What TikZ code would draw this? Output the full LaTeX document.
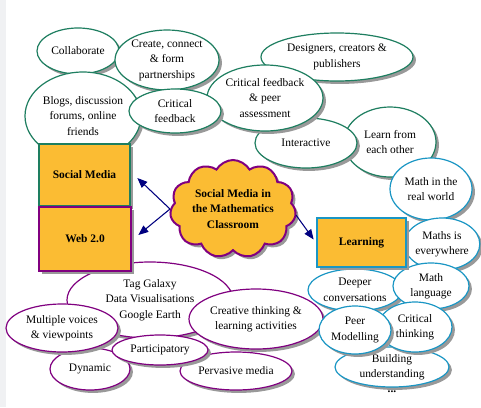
\documentclass[tikz,border=0pt]{standalone}
\usepackage{fontspec}
\setmainfont{Liberation Serif}
\usetikzlibrary{shapes.geometric,shapes.symbols,shadows,arrows.meta}
\definecolor{orng}{HTML}{FBBC33}
\definecolor{grn}{HTML}{1E7E60}
\definecolor{prp}{HTML}{800080}
\definecolor{blu}{HTML}{1A96C4}
\definecolor{nvy}{HTML}{000080}
\definecolor{strip}{HTML}{F0F1F3}
\newcommand\bubfont{\fontsize{8.6}{11.6}\selectfont}
\begin{document}
\begin{tikzpicture}[x=0.75pt,y=-0.75pt,
  shd/.style={drop shadow={shadow xshift=2.2pt,shadow yshift=-2.2pt,fill=black!40,opacity=1}},
  bub/.style n args={2}{ellipse,shd,fill=white,line width=0.9pt,inner sep=0pt,align=center,
    minimum width=#1*1.5pt,minimum height=#2*1.5pt,font=\bubfont},
  boxn/.style n args={2}{rectangle,shd,fill=orng,line width=2pt,inner sep=0pt,align=center,
    minimum width=#1*0.75pt,minimum height=#2*0.75pt,font=\bubfont\bfseries},
  arr/.style={draw=nvy,line width=0.8pt,-{Triangle[length=7.5pt,width=6pt]}}
]
\useasboundingbox (0,0) rectangle (481,407);
\fill[white] (0,0) rectangle (481,407);
\fill[strip] (0,0) rectangle (6,407);

% green group
\node[bub={76}{24},draw=grn] (des) at (337,57) {Designers, creators \&\\publishers};
\node[bub={46}{35},draw=grn] (lfo) at (390,142) {Learn from\\each other};
\node[bub={51}{25},draw=grn] (int) at (306,143) {Interactive};
\node[bub={58}{33},draw=grn] (cfp) at (265,98) {Critical feedback\\\& peer\\assessment};
\node[bub={41}{23},draw=grn] (col) at (78,51) {Collaborate};
\node[bub={52}{30},draw=grn] (cre) at (167,60) {Create, connect\\\& form\\partnerships};
\node[bub={58}{44},draw=grn] (blg) at (83,116) {Blogs, discussion\\forums, online\\friends};
\node[bub={46}{22},draw=grn] (crf) at (175,111) {Critical\\feedback};

% purple group
\node[bub={83}{38},draw=prp] (tag) at (150,300) {Tag Galaxy\\Data Visualisations\\Google Earth};
\node[bub={56}{19},draw=prp] (pvm) at (236,371) {Pervasive media};
\node[bub={40}{21},draw=prp] (dyn) at (90,369) {Dynamic};
\node[bub={48}{15},draw=prp] (prt) at (160,350) {Participatory};
\node[bub={56}{24},draw=prp] (mvv) at (62,328) {Multiple voices\\\& viewpoints};
\node[bub={67}{30},draw=prp] (ctl) at (256,319) {Creative thinking \&\\learning activities};

% blue group
\node[bub={41}{31},draw=blu] (mrw) at (431,189) {Math in the\\real world};
\node[bub={37}{26},draw=blu] (mie) at (442,244) {Maths is\\everywhere};
\node[bub={57}{20},draw=blu] (bld) at (392,367) {Building\\understanding};
\node[font=\bubfont\bfseries,inner sep=0pt] (dots) at (392,392) {...};
\node[bub={47}{21},draw=blu] (dpc) at (355,290) {Deeper\\conversations};
\node[bub={38}{23},draw=blu] (mlg) at (431,286) {Math\\language};
\node[bub={37}{25},draw=blu] (crt) at (415,327) {Critical\\thinking};
\node[bub={36}{24},draw=blu] (pmd) at (355,330) {Peer\\Modelling};

% boxes
\node[boxn={91}{62},draw=grn] (sm) at (84.5,175) {Social Media};
\node[boxn={92}{64},draw=prp] (web) at (85,239) {Web 2.0};
\node[boxn={89}{49},draw=blu] (lrn) at (361.5,242.5) {Learning};

% cloud
\node[cloud,cloud puffs=11,cloud puff arc=120,cloud ignores aspect,shd,draw=prp,fill=orng,
  line width=1.5pt,inner sep=0pt,align=center,minimum width=126*0.75pt,minimum height=98*0.75pt,
  font=\bubfont\bfseries] (cld) at (233,209) {Social Media in\\the Mathematics\\Classroom};

% arrows
\draw[arr] (cld.west) -- ([shift={(6,3)}]sm.east);
\draw[arr] (cld.west) -- ([shift={(6,-4)}]web.east);
\draw[arr] ([shift={(0,6)}]cld.east) -- ([shift={(-2,-3)}]lrn.west);
\end{tikzpicture}
\end{document}
